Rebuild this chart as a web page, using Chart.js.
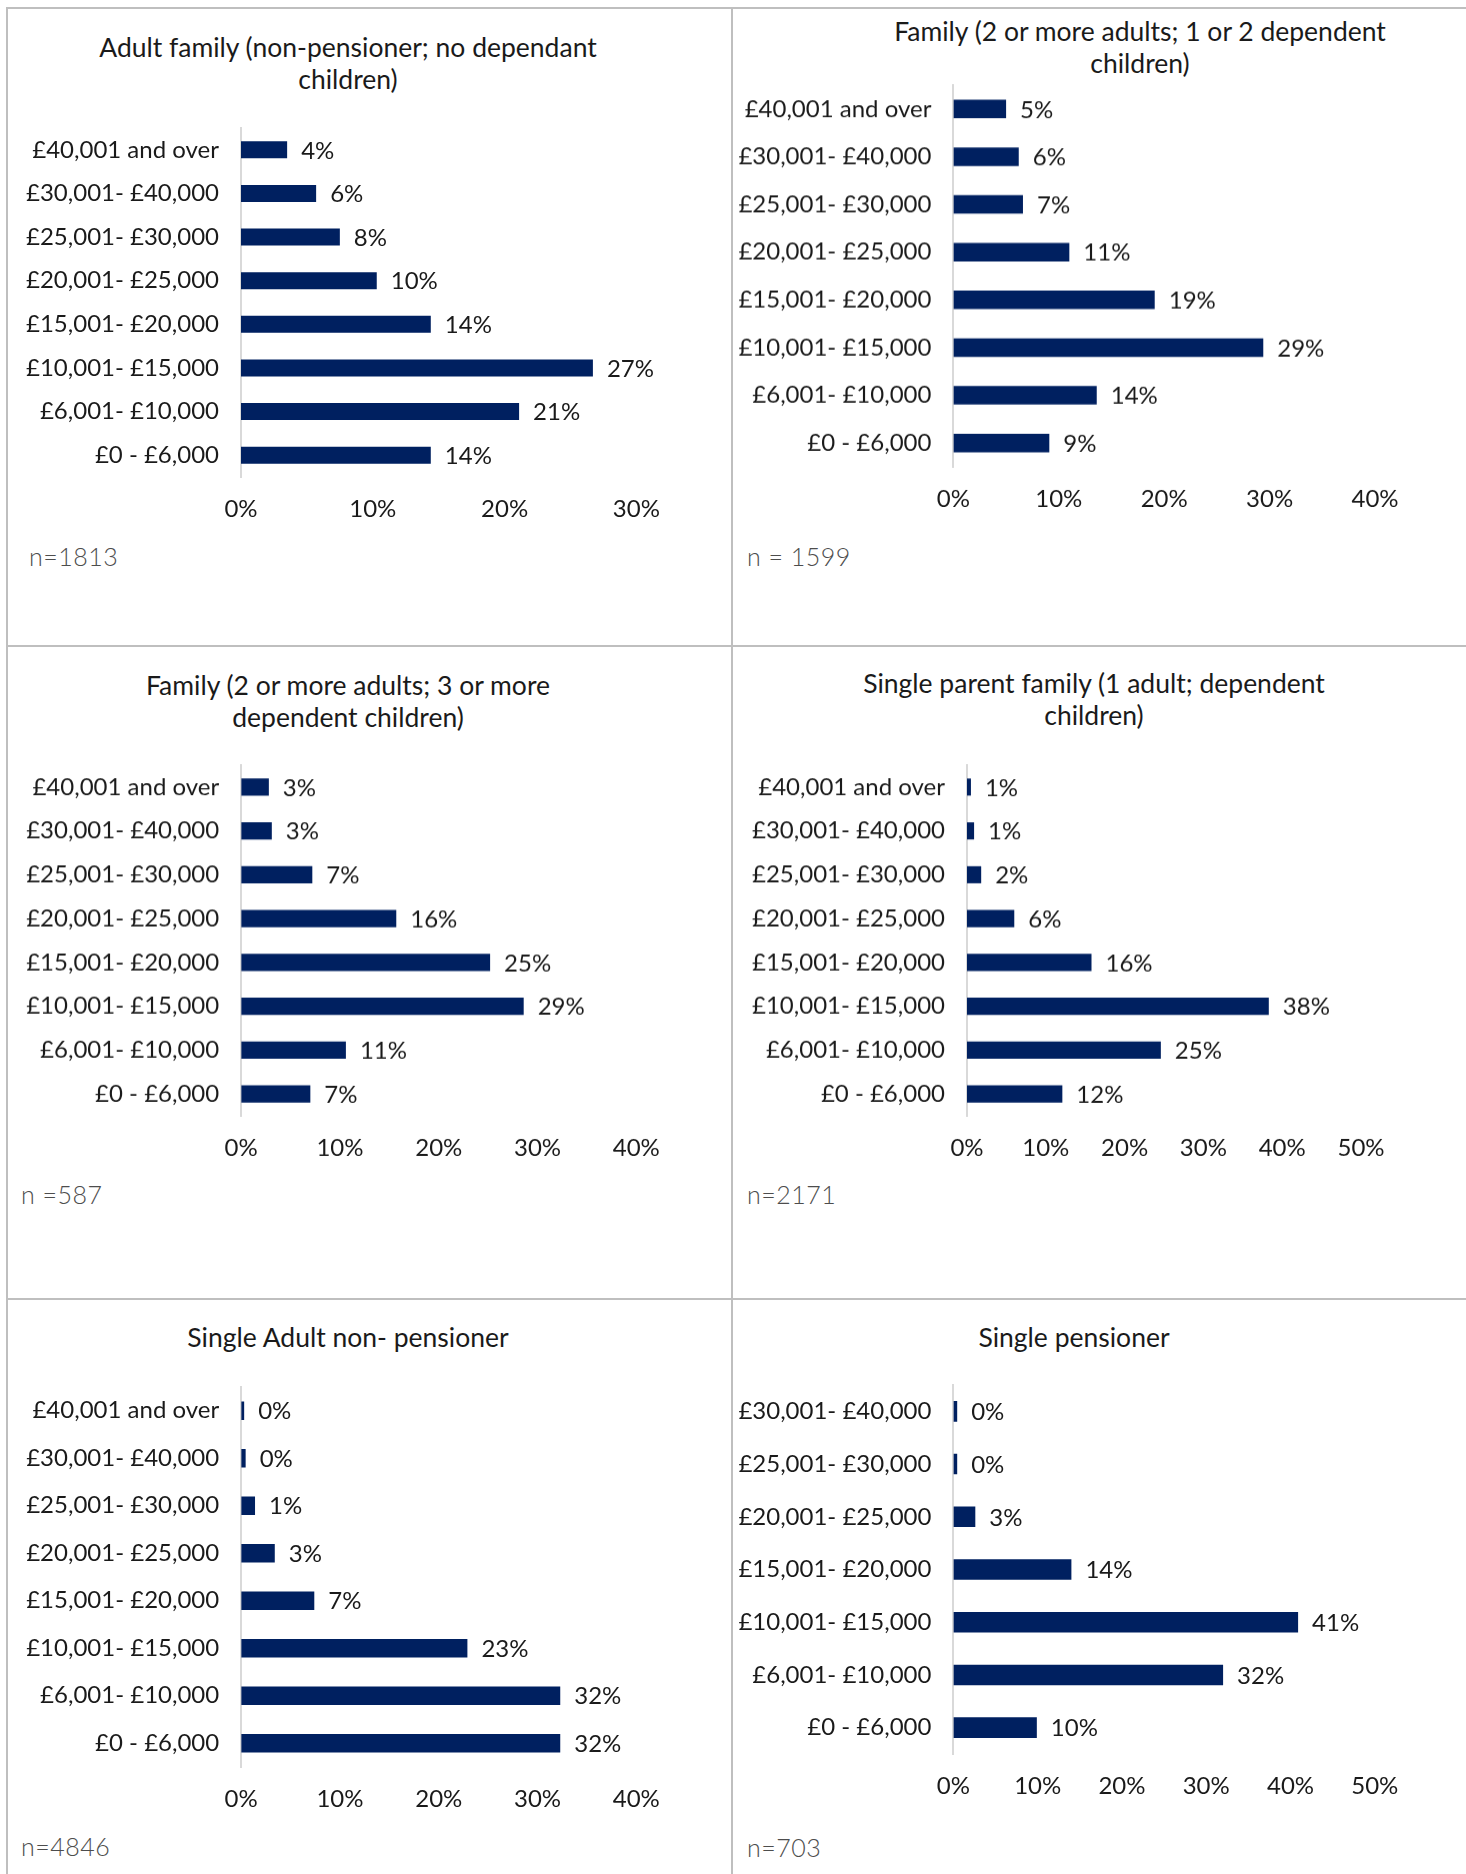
<!DOCTYPE html>
<html>
<head>
<meta charset="utf-8">
<script src="https://cdn.jsdelivr.net/npm/chart.js@4.4.1/dist/chart.umd.min.js"></script>
<style>
  html, body { margin: 0; padding: 0; background: #ffffff; }
  body { width: 1466px; height: 1874px; position: relative; overflow: hidden; font-family: Lato, "Open Sans", sans-serif; }
  .line { position: absolute; background: #bfbfbf; }
  .title { position: absolute; width: 700px; text-align: center; font-size: 26.5px; line-height: 32px; color: #1a1a1a; white-space: nowrap; }
  .nlab { position: absolute; font-size: 25px; line-height: 30px; color: #4d4d4d; font-weight: 300; white-space: pre; letter-spacing: 0.5px; }
  canvas { position: absolute; }
</style>
</head>
<body>

<div class="line" style="left:7px; top:7px; width:1459px; height:2px;"></div>
<div class="line" style="left:6px; top:7px; width:2px; height:1867px;"></div>
<div class="line" style="left:731px; top:7px; width:2px; height:1867px;"></div>
<div class="line" style="left:7px; top:645px; width:1459px; height:2px;"></div>
<div class="line" style="left:7px; top:1298px; width:1459px; height:2px;"></div>

<div class="title" style="left:-2px; top:31px;">Adult family (non-pensioner; no dependant<br>children)</div>
<div class="title" style="left:790px; top:15px;">Family (2 or more adults; 1 or 2 dependent<br>children)</div>
<div class="title" style="left:-2px; top:669px;">Family (2 or more adults; 3 or more<br>dependent children)</div>
<div class="title" style="left:744px; top:667px;">Single parent family (1 adult; dependent<br>children)</div>
<div class="title" style="left:-2px; top:1321px;">Single Adult non- pensioner</div>
<div class="title" style="left:724px; top:1321px;">Single pensioner</div>

<div class="nlab" style="left:29px; top:541px;">n=1813</div>
<div class="nlab" style="left:747px; top:541px;">n = 1599</div>
<div class="nlab" style="left:21px; top:1179px;">n =587</div>
<div class="nlab" style="left:747px; top:1179px;">n=2171</div>
<div class="nlab" style="left:21px; top:1831px;">n=4846</div>
<div class="nlab" style="left:747px; top:1832px;">n=703</div>

<canvas id="c1"></canvas>
<canvas id="c2"></canvas>
<canvas id="c3"></canvas>
<canvas id="c4"></canvas>
<canvas id="c5"></canvas>
<canvas id="c6"></canvas>

<script>
// ---------------- DATA ----------------
const incomeBands8 = ["£40,001 and over", "£30,001- £40,000", "£25,001- £30,000", "£20,001- £25,000",
                      "£15,001- £20,000", "£10,001- £15,000", "£6,001- £10,000", "£0 - £6,000"];
const incomeBands7 = ["£30,001- £40,000", "£25,001- £30,000", "£20,001- £25,000",
                      "£15,001- £20,000", "£10,001- £15,000", "£6,001- £10,000", "£0 - £6,000"];

const adultFamily        = [3.5, 5.7, 7.5, 10.3, 14.4, 26.7, 21.1, 14.4];   // n=1813
const familyOneTwoKids   = [5.0, 6.2, 6.6, 11.0, 19.1, 29.4, 13.6, 9.1];    // n=1599
const familyThreeKids    = [2.8, 3.1, 7.2, 15.7, 25.2, 28.6, 10.6, 7.0];    // n=587
const singleParent       = [0.5, 0.9, 1.8, 6.0, 15.8, 38.3, 24.6, 12.1];    // n=2171
const singleAdult        = [0.3, 0.45, 1.4, 3.4, 7.4, 22.9, 32.3, 32.3];    // n=4846
const singlePensioner    = [0.45, 0.45, 2.6, 14.0, 40.9, 32.0, 9.9];        // n=703

const axisMax30 = 30, axisMax40 = 40, axisMax50 = 50;
const axisStep = 10;

// ---------------- CHARTS ----------------
const FONT = "Lato, 'Open Sans', sans-serif";
Chart.defaults.font.family = FONT;
Chart.defaults.font.size = 24;
Chart.defaults.color = "#1a1a1a";

const BAR = "#002060";

const valueLabels = {
  id: "valueLabels",
  afterDatasetsDraw(chart) {
    const ctx = chart.ctx;
    ctx.save();
    ctx.font = "24px " + FONT;
    ctx.fillStyle = "#1a1a1a";
    ctx.textAlign = "left";
    ctx.textBaseline = "middle";
    const meta = chart.getDatasetMeta(0);
    const vals = chart.data.datasets[0].data;
    meta.data.forEach((el, i) => {
      ctx.fillText(Math.round(vals[i]) + "%", el.x + 14, el.y + 1);
    });
    ctx.restore();
  }
};

function makeChart(id, labels, values, max, box) {
  // box (page coords): x0 = 0% position, x1 = max position, yTop/yBottom = category band
  const L = box.L, W = box.W;
  const T = box.yTop - 50;
  const H = (box.yBottom + 70) - T;
  const cv = document.getElementById(id);
  cv.style.left = L + "px";
  cv.style.top = T + "px";
  cv.width = W; cv.height = H;
  cv.style.width = W + "px"; cv.style.height = H + "px";
  return new Chart(cv, {
    type: "bar",
    data: {
      labels: labels,
      datasets: [{
        data: values,
        backgroundColor: BAR,
        borderWidth: 0,
        barPercentage: 0.39,
        categoryPercentage: 1.0
      }]
    },
    options: {
      indexAxis: "y",
      responsive: false,
      animation: false,
      devicePixelRatio: 1,
      layout: {
        padding: {
          left: 0,
          top: box.yTop - T,
          right: W - (box.x1 - L),
          bottom: 0
        }
      },
      plugins: { legend: { display: false }, tooltip: { enabled: false }, title: { display: false } },
      scales: {
        x: {
          type: "linear",
          min: 0,
          max: max,
          grid: { display: false, drawTicks: false },
          border: { display: false },
          ticks: {
            stepSize: axisStep,
            padding: 18,
            color: "#1a1a1a",
            callback: (v) => v + "%"
          },
          afterFit: (s) => { s.height = (T + H) - box.yBottom; }
        },
        y: {
          type: "category",
          grid: { display: false, drawTicks: false },
          border: { display: true, color: "#d9d9d9", width: 2 },
          ticks: { padding: 22, color: "#1a1a1a" },
          afterFit: (s) => { s.width = box.x0 - L; }
        }
      }
    },
    plugins: [valueLabels]
  });
}

makeChart("c1", incomeBands8, adultFamily, axisMax30,
  { L: 10, W: 700, x0: 241, x1: 636.4, yTop: 127.5, yBottom: 476.5 });
makeChart("c2", incomeBands8, familyOneTwoKids, axisMax40,
  { L: 736, W: 724, x0: 953.4, x1: 1375, yTop: 85.2, yBottom: 466.6 });
makeChart("c3", incomeBands8, familyThreeKids, axisMax40,
  { L: 10, W: 700, x0: 241.2, x1: 636.3, yTop: 765.4, yBottom: 1115.6 });
makeChart("c4", incomeBands8, singleParent, axisMax50,
  { L: 736, W: 724, x0: 967, x1: 1361, yTop: 765.4, yBottom: 1115.6 });
makeChart("c5", incomeBands8, singleAdult, axisMax40,
  { L: 10, W: 700, x0: 241.2, x1: 636.3, yTop: 1386.5, yBottom: 1767.4 });
makeChart("c6", incomeBands7, singlePensioner, axisMax50,
  { L: 736, W: 724, x0: 953.4, x1: 1374.8, yTop: 1385, yBottom: 1754.4 });
</script>
</body>
</html>
